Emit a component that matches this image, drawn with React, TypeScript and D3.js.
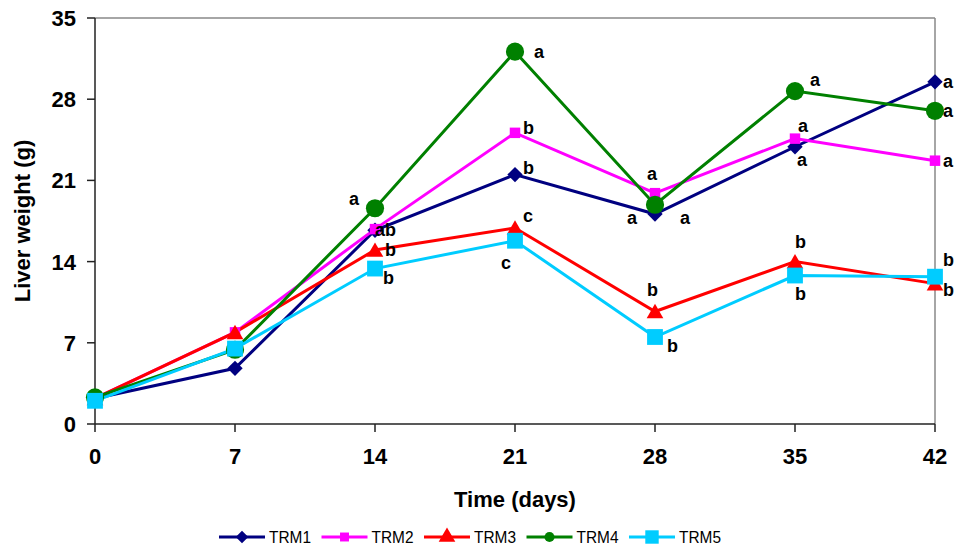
import React from "react";
import * as d3 from "d3";

const W = 956;
const H = 550;
const MARGIN = { top: 18, right: 21, bottom: 126, left: 95 };

const days = [0, 7, 14, 21, 28, 35, 42];
const yTicks = [0, 7, 14, 21, 28, 35];

const seriesNames = ["TRM1", "TRM2", "TRM3", "TRM4", "TRM5"];
const trm1 = [2.2, 4.8, 16.7, 21.5, 18.1, 23.9, 29.5];
const trm2 = [2.2, 7.9, 16.8, 25.1, 19.9, 24.6, 22.7];
const trm3 = [2.2, 7.9, 15.0, 16.9, 9.7, 14.0, 12.1];
const trm4 = [2.3, 6.4, 18.6, 32.1, 18.9, 28.7, 27.0];
const trm5 = [2.0, 6.5, 13.4, 15.8, 7.5, 12.8, 12.7];

// significance letters: [series index, day, letter]
const letters: [number, number, string][] = [
  [3, 14, "a"], [1, 14, "ab"], [2, 14, "b"], [4, 14, "b"],
  [3, 21, "a"], [1, 21, "b"], [0, 21, "b"], [2, 21, "c"], [4, 21, "c"],
  [1, 28, "a"], [0, 28, "a"], [3, 28, "a"], [2, 28, "b"], [4, 28, "b"],
  [3, 35, "a"], [1, 35, "a"], [0, 35, "a"], [2, 35, "b"], [4, 35, "b"],
  [0, 42, "a"], [3, 42, "a"], [1, 42, "a"], [4, 42, "b"], [2, 42, "b"],
];

// label offsets from the point (pixels), same order as letters
const letterOffsets: [number, number][] = [
  [-26, -3], [0, 7], [10, 6], [8, 15],
  [19, 6], [8, 1], [8, -1], [8, -6], [-14, 28],
  [-8, -13], [-28, 10], [25, 19], [-8, -15], [12, 15],
  [15, -5], [3, -7], [2, 19], [0, -14], [0, 24],
  [8, 6], [8, 6], [8, 6], [8, -11], [8, 12],
];

const colors = ["#000080", "#ff00ff", "#ff0000", "#008000", "#00ccff"];
const symbols = [d3.symbolDiamond2, d3.symbolSquare, d3.symbolTriangle, d3.symbolCircle, d3.symbolSquare];
const symbolSizes = [150, 110, 120, 260, 250];
const legendSizes = [100, 80, 120, 80, 180];

const FONT = "'Liberation Sans', Arial, sans-serif";

const Chart = () => {
  const allSeries = [trm1, trm2, trm3, trm4, trm5];
  const bw = W - MARGIN.left - MARGIN.right;
  const bh = H - MARGIN.top - MARGIN.bottom;

  const xScale = d3.scaleLinear().domain([0, 42]).range([0, bw]);
  const yScale = d3.scaleLinear().domain([0, 35]).range([bh, 0]);

  const line = d3
    .line<number>()
    .x((_, i) => xScale(days[i]))
    .y((d) => yScale(d));

  const sym = (i: number, size: number) => {
    const s = d3.symbol().type(symbols[i]).size(size)();
    return s || "";
  };

  return (
    <svg
      width={W}
      height={H}
      style={{ display: "block", position: "absolute", left: 0, top: 0 }}
      fontFamily={FONT}
    >
      <g transform={`translate(${MARGIN.left},${MARGIN.top})`}>
        {/* frame */}
        <line x1={0} x2={bw} y1={0} y2={0} stroke="#888" strokeWidth={1.5} />
        <line x1={bw} x2={bw} y1={0} y2={bh} stroke="#888" strokeWidth={1.5} />

        {/* y axis */}
        <line x1={0} x2={0} y1={0} y2={bh} stroke="#222" strokeWidth={1.5} />
        {yTicks.map((t) => (
          <g key={t} transform={`translate(0,${yScale(t)})`}>
            <line x1={-8} x2={0} stroke="#222" strokeWidth={1.5} />
            <text x={-19} dy="0.36em" textAnchor="end" fontSize={22} fontWeight="bold">
              {t}
            </text>
          </g>
        ))}

        {/* x axis */}
        <line x1={0} x2={bw} y1={bh} y2={bh} stroke="#222" strokeWidth={1.5} />
        {days.map((t) => (
          <g key={t} transform={`translate(${xScale(t)},${bh})`}>
            <line y1={0} y2={8} stroke="#222" strokeWidth={1.5} />
            <text y={40} textAnchor="middle" fontSize={22} fontWeight="bold">
              {t}
            </text>
          </g>
        ))}

        {/* series lines */}
        {allSeries.map((s, i) => (
          <path key={i} d={line(s) || ""} fill="none" stroke={colors[i]} strokeWidth={3} />
        ))}
        {allSeries.map((s, i) =>
          s.map((v, j) => (
            <path
              key={`${i}-${j}`}
              d={sym(i, symbolSizes[i])}
              transform={`translate(${xScale(days[j])},${yScale(v) + (i === 2 ? 2 : 0)})`}
              fill={colors[i]}
            />
          ))
        )}

        {/* letters */}
        {letters.map(([si, day, txt], k) => {
          const j = days.indexOf(day);
          const [dx, dy] = letterOffsets[k];
          return (
            <text
              key={k}
              x={xScale(day) + dx}
              y={yScale(allSeries[si][j]) + dy}
              fontSize={18}
              fontWeight="bold"
            >
              {txt}
            </text>
          );
        })}
      </g>

      {/* axis titles */}
      <text x={515} y={507} textAnchor="middle" fontSize={22} fontWeight="bold">
        Time (days)
      </text>
      <text
        transform={`translate(30,${MARGIN.top + bh / 2}) rotate(-90)`}
        textAnchor="middle"
        fontSize={22}
        fontWeight="bold"
      >
        Liver weight (g)
      </text>

      {/* legend */}
      {seriesNames.map((name, i) => {
        const x0 = 219 + i * 102.5;
        const y0 = 537;
        return (
          <g key={name}>
            <line x1={x0} x2={x0 + 46} y1={y0} y2={y0} stroke={colors[i]} strokeWidth={3} />
            <path d={sym(i, legendSizes[i])} transform={`translate(${x0 + 23},${y0})`} fill={colors[i]} />
            <text x={x0 + 50} y={y0} dy="0.36em" fontSize={17} textLength={42} lengthAdjust="spacingAndGlyphs">
              {name}
            </text>
          </g>
        );
      })}
    </svg>
  );
};

export default function App() {
  return <Chart />;
}
